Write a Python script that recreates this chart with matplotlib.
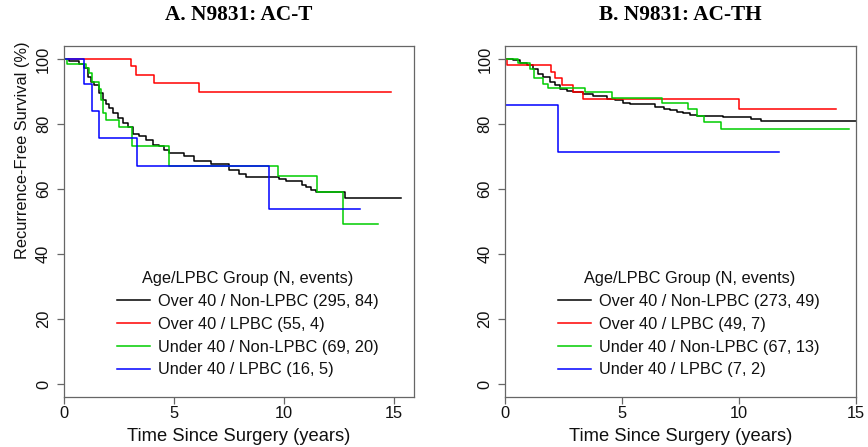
import matplotlib
matplotlib.use('Agg')
import matplotlib.pyplot as plt

# ---------------- data ----------------
# Panel A: N9831 AC-T
a_over_non_t = [0, 0.27, 0.72, 0.95, 1.10, 1.25, 1.40, 1.63, 1.78, 1.93, 2.08, 2.24, 2.46,
                2.69, 2.92, 3.14, 3.44, 3.75, 4.05, 4.35, 4.58, 4.80, 5.48, 5.94, 6.69,
                7.52, 7.97, 8.28, 9.76, 10.09, 10.84, 11.00, 11.22, 11.45, 12.78]
a_over_non_s = [100, 99.5, 98.5, 97.1, 94.6, 93.0, 92.0, 89.5, 87.4, 86.2, 84.9, 83.5, 82.0,
                80.3, 79.0, 77.0, 76.2, 75.2, 73.6, 73.1, 72.1, 71.1, 70.2, 68.5, 67.8,
                66.0, 64.7, 63.7, 63.1, 62.4, 61.3, 60.6, 59.8, 59.0, 57.3]
a_over_non_end = 15.3

a_over_lpbc_t = [0, 3.07, 3.29, 4.12, 6.16]
a_over_lpbc_s = [100, 98.0, 95.2, 92.5, 89.8]
a_over_lpbc_end = 14.85

a_under_non_t = [0, 0.15, 1.03, 1.15, 1.30, 1.60, 1.72, 1.78, 1.93, 2.51, 3.11, 4.77,
                 9.71, 11.52, 12.66]
a_under_non_s = [100, 98.6, 97.1, 95.6, 92.8, 90.8, 87.4, 83.3, 81.3, 79.2, 73.3, 67.2,
                 63.9, 59.0, 49.3]
a_under_non_end = 14.27

a_under_lpbc_t = [0, 0.91, 1.30, 1.63, 3.32, 9.30]
a_under_lpbc_s = [100, 92.4, 84.1, 75.7, 67.2, 53.8]
a_under_lpbc_end = 13.46

# Panel B: N9831 AC-TH
b_over_non_t = [0, 0.36, 0.64, 0.93, 1.21, 1.42, 1.64, 1.92, 2.14, 2.35, 2.64, 2.92, 3.35,
                3.77, 4.35, 4.70, 5.06, 5.34, 6.41, 6.78, 7.05, 7.34, 7.60, 7.91, 8.19,
                9.33, 10.50, 10.93]
b_over_non_s = [100, 99.6, 98.9, 98.3, 97.0, 95.5, 94.5, 92.9, 91.9, 90.7, 90.1, 89.7, 89.1,
                88.7, 87.8, 87.3, 86.6, 86.1, 85.2, 84.7, 84.2, 83.7, 83.3, 82.8, 82.5,
                82.2, 81.6, 80.8]
b_over_non_end = 15.0

b_over_lpbc_t = [0, 0.10, 1.95, 2.14, 2.45, 2.89, 3.32, 10.02]
b_over_lpbc_s = [100, 98.1, 96.1, 94.2, 91.9, 89.9, 87.7, 84.6]
b_over_lpbc_end = 14.13

b_under_non_t = [0, 0.55, 1.05, 1.25, 1.64, 1.85, 3.42, 4.58, 6.72, 7.81, 8.22, 8.50, 9.25]
b_under_non_s = [100, 98.9, 97.0, 94.2, 92.4, 91.1, 89.7, 87.9, 86.4, 84.5, 82.5, 80.7, 78.4]
b_under_non_end = 14.71

b_under_lpbc_t = [0, 0.02, 2.25]
b_under_lpbc_s = [100, 85.7, 71.4]
b_under_lpbc_end = 11.72

titles = ["A. N9831: AC-T", "B. N9831: AC-TH"]
a_labels = ["Over 40 / Non-LPBC (295, 84)", "Over 40 / LPBC (55, 4)",
            "Under 40 / Non-LPBC (69, 20)", "Under 40 / LPBC (16, 5)"]
b_labels = ["Over 40 / Non-LPBC (273, 49)", "Over 40 / LPBC (49, 7)",
            "Under 40 / Non-LPBC (67, 13)", "Under 40 / LPBC (7, 2)"]
legend_title = "Age/LPBC Group (N, events)"
x_ticks = [0, 5, 10, 15]
y_ticks = [0, 20, 40, 60, 80, 100]
xlabel = "Time Since Surgery (years)"
ylabel = "Recurrence-Free Survival (%)"

colors = ["#000000", "#FF0000", "#00CD00", "#0000FF"]

# ---------------- figure ----------------
plt.rcParams['font.family'] = ['Liberation Sans', 'DejaVu Sans']
W, H = 868, 447
fig = plt.figure(figsize=(W / 100, H / 100), dpi=100)

FS = 11.8      # ticks / legend / y label
FS_LAB = 13.2  # x axis label
frame_col = '#666666'
txt_col = '#111111'


def make_axes(x0, x1, y0, y1):
    return fig.add_axes([x0 / W, 1 - y1 / H, (x1 - x0) / W, (y1 - y0) / H])


axA = make_axes(63.5, 414, 46, 397)
axB = make_axes(505, 856, 46, 397)

panels = [
    (axA, [(a_over_non_t, a_over_non_s, a_over_non_end),
           (a_over_lpbc_t, a_over_lpbc_s, a_over_lpbc_end),
           (a_under_non_t, a_under_non_s, a_under_non_end),
           (a_under_lpbc_t, a_under_lpbc_s, a_under_lpbc_end)], a_labels, (0, 15.9)),
    (axB, [(b_over_non_t, b_over_non_s, b_over_non_end),
           (b_over_lpbc_t, b_over_lpbc_s, b_over_lpbc_end),
           (b_under_non_t, b_under_non_s, b_under_non_end),
           (b_under_lpbc_t, b_under_lpbc_s, b_under_lpbc_end)], b_labels, (0, 15.0)),
]

for i, (ax, curves, labels, xl) in enumerate(panels):
    handles = []
    for (t, s, end), col, lab in zip(curves, colors, labels):
        h, = ax.step(list(t) + [end], list(s) + [s[-1]], where='post',
                     color=col, lw=1.1, label=lab)
        handles.append(h)
    ax.set_xlim(*xl)
    ax.set_ylim(-4, 104)
    ax.set_xticks(x_ticks)
    ax.set_yticks(y_ticks)
    for sp in ax.spines.values():
        sp.set_color(frame_col)
        sp.set_linewidth(0.9)
    ax.tick_params(direction='out', length=5, width=0.9, color=frame_col,
                   labelsize=FS, labelcolor=txt_col)
    ax.tick_params(axis='x', pad=1.5)
    ax.tick_params(axis='y', pad=4, labelrotation=90)
    for lbl in ax.get_yticklabels():
        lbl.set_va('center')
    ax.set_xlabel(xlabel, fontsize=FS_LAB, color=txt_col, labelpad=5)
    leg = ax.legend(handles=handles, loc='upper left',
                    bbox_to_anchor=(0.152, 0.359), frameon=False,
                    fontsize=FS, title=legend_title, title_fontsize=FS,
                    handlelength=2.0, handletextpad=0.5, labelspacing=0.48,
                    borderpad=0, borderaxespad=0)
    for txt in leg.get_texts():
        txt.set_color(txt_col)
    leg.get_title().set_color(txt_col)
    cx = (ax.get_position().x0 + ax.get_position().x1) / 2
    fig.text(cx, 1 - 15 / H, titles[i], ha='center', va='center',
             fontsize=15.3, fontweight='bold', family='Liberation Serif')

axA.set_ylabel(ylabel, fontsize=FS, color=txt_col)
axA.yaxis.set_label_coords(-0.095, 0.704)

fig.savefig('out.png', dpi=100)
